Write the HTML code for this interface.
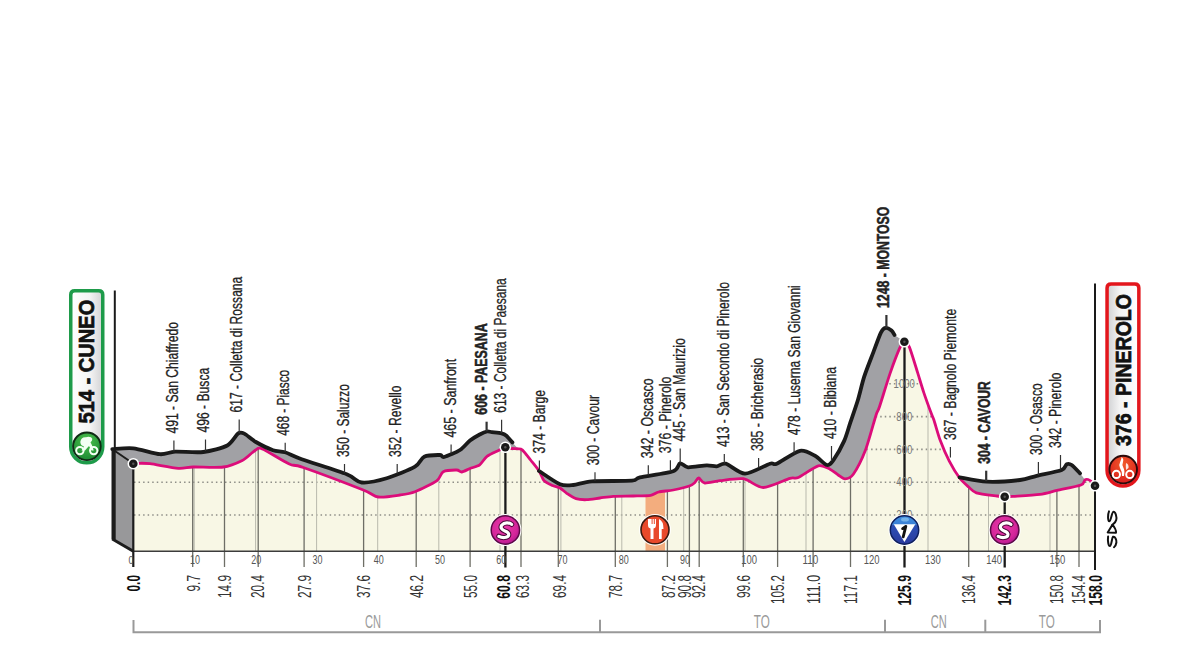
<!DOCTYPE html>
<html><head><meta charset="utf-8"><style>
html,body{margin:0;padding:0;background:#fff;}
svg{display:block;}
text{font-family:"Liberation Sans",sans-serif;}
</style></head><body>
<svg width="1200" height="660" viewBox="0 0 1200 660">
<defs>
<clipPath id="cr"><path d="M133.30,463.70 C133.97,463.65 136.07,463.30 138.30,463.30 C140.53,463.30 144.67,463.03 150.00,463.70 C155.33,464.37 172.53,467.86 178.30,468.30 C184.07,468.74 187.30,467.17 193.30,467.00 C199.30,466.83 216.77,467.88 223.30,467.00 C229.83,466.12 238.50,462.27 242.30,460.40 C246.10,458.53 249.71,454.60 251.80,453.00 C253.89,451.40 257.56,448.56 258.00,448.40 C258.44,448.24 260.90,448.11 262.70,449.00 C264.50,449.89 281.13,459.67 285.00,461.80 C288.87,463.93 289.26,464.24 291.70,465.00 C294.14,465.76 293.75,464.17 303.30,467.50 C312.85,470.83 353.30,486.07 363.30,490.00 C373.30,493.93 373.41,496.33 378.30,497.00 C383.19,497.67 395.11,495.71 400.00,495.00 C404.89,494.29 410.11,493.59 415.00,491.70 C419.89,489.81 432.93,483.47 436.70,480.80 C440.47,478.13 440.63,473.14 443.30,471.70 C445.97,470.26 454.25,469.96 456.70,470.00 C459.15,470.04 459.93,472.20 461.70,472.00 C463.47,471.80 467.60,469.46 470.00,468.50 C472.40,467.54 477.43,466.41 479.70,464.80 C481.97,463.19 484.43,458.33 487.00,456.40 C489.57,454.47 496.57,451.51 499.00,450.30 C501.43,449.09 503.57,447.54 505.20,447.30 C506.83,447.06 509.11,448.26 511.20,448.50 C513.29,448.74 518.95,448.37 520.90,449.10 C522.85,449.83 524.51,452.55 525.80,454.00 C527.09,455.45 528.83,457.75 530.60,460.00 C532.37,462.25 537.31,468.15 539.10,470.90 C540.89,473.65 542.23,478.65 544.00,480.60 C545.77,482.55 550.27,484.51 552.40,485.50 C554.53,486.49 558.09,486.96 560.00,488.00 C561.91,489.04 564.57,491.87 566.70,493.30 C568.83,494.73 573.33,497.85 576.00,498.70 C578.67,499.55 583.50,499.79 586.70,499.70 C589.90,499.61 596.45,498.45 600.00,498.00 C603.55,497.55 608.86,496.57 613.30,496.30 C617.74,496.03 628.31,496.13 633.30,496.00 C638.29,495.87 647.31,495.83 650.70,495.30 C654.09,494.77 655.69,492.71 658.70,492.00 C661.71,491.29 669.22,490.80 673.30,490.00 C677.38,489.20 686.45,486.97 689.30,486.00 C692.15,485.03 693.45,483.77 694.70,482.70 C695.95,481.63 697.37,477.96 698.70,478.00 C700.03,478.04 701.86,482.64 704.70,483.00 C707.54,483.36 714.85,481.27 720.00,480.70 C725.15,480.13 737.53,477.79 743.30,478.70 C749.07,479.61 757.07,487.55 763.30,487.50 C769.53,487.45 785.33,479.63 790.00,478.30 C794.67,476.97 794.53,479.17 798.30,477.50 C802.07,475.83 814.07,466.91 818.30,465.80 C822.53,464.69 827.35,467.97 830.00,469.20 C832.65,470.43 836.20,473.72 838.20,475.00 C840.20,476.28 842.99,478.91 845.00,478.80 C847.01,478.69 850.57,478.04 853.30,474.20 C856.03,470.36 862.47,457.87 865.50,450.00 C868.53,442.13 874.15,420.93 876.00,415.20 C877.85,409.47 877.53,412.55 879.40,407.00 C881.27,401.45 887.28,381.48 890.00,373.60 C892.72,365.72 897.88,352.14 899.80,347.90 C901.72,343.66 903.12,341.91 904.40,341.80 C905.68,341.69 907.63,342.95 909.40,347.10 C911.17,351.25 915.78,366.83 917.70,372.90 C919.62,378.97 921.97,387.15 923.80,392.60 C925.63,398.05 930.05,410.15 931.40,413.80 C932.75,417.45 932.71,416.43 933.90,420.00 C935.09,423.57 938.25,435.11 940.30,440.60 C942.35,446.09 946.73,456.21 949.30,461.20 C951.87,466.19 957.01,474.56 959.60,478.00 C962.19,481.44 966.46,485.03 968.70,487.00 C970.94,488.97 972.63,491.60 976.40,492.80 C980.17,494.00 993.23,495.48 997.00,496.00 C1000.77,496.52 1002.53,496.66 1004.70,496.70 C1006.87,496.74 1008.59,496.62 1013.30,496.30 C1018.01,495.98 1034.17,495.09 1040.00,494.30 C1045.83,493.51 1051.55,491.64 1057.00,490.40 C1062.45,489.16 1077.17,486.41 1080.90,485.00 C1084.63,483.59 1084.05,480.53 1085.00,479.80 C1085.95,479.07 1087.20,479.30 1088.00,479.50 C1088.80,479.70 1090.07,480.46 1091.00,481.30 C1091.93,482.14 1094.47,485.20 1095.00,485.80 L1095,551.3 L133.3,551.3 Z"/></clipPath>
<linearGradient id="gbox" x1="0" x2="1" y1="0" y2="0"><stop offset="0" stop-color="#ffffff"/><stop offset="0.6" stop-color="#f4f4f4"/><stop offset="1" stop-color="#d2d2d4"/></linearGradient>
<linearGradient id="rbox" x1="0" x2="1" y1="0" y2="0"><stop offset="0" stop-color="#cfd0d2"/><stop offset="0.4" stop-color="#f4f4f4"/><stop offset="1" stop-color="#ffffff"/></linearGradient>
<radialGradient id="gS" cx="0.45" cy="0.4" r="0.65"><stop offset="0" stop-color="#e83aa8"/><stop offset="0.7" stop-color="#d4259a"/><stop offset="1" stop-color="#a8158a"/></radialGradient>
<linearGradient id="gK" x1="0" x2="0" y1="0" y2="1"><stop offset="0" stop-color="#3f8ee0"/><stop offset="0.33" stop-color="#3a7fd4"/><stop offset="0.34" stop-color="#2c4fb4"/><stop offset="1" stop-color="#2a3a9e"/></linearGradient>
<radialGradient id="gG" cx="0.5" cy="0.3" r="0.7"><stop offset="0" stop-color="#4cc04c"/><stop offset="1" stop-color="#1d8a34"/></radialGradient>
<radialGradient id="gR" cx="0.5" cy="0.3" r="0.7"><stop offset="0" stop-color="#f25a2a"/><stop offset="1" stop-color="#d81c1c"/></radialGradient>
</defs>

<path d="M112.30,449.10 C115.10,448.99 126.94,447.62 133.30,448.30 C139.66,448.98 154.44,453.75 160.00,454.20 C165.56,454.65 169.23,451.99 175.00,451.70 C180.77,451.41 196.33,452.83 203.30,452.00 C210.27,451.17 222.65,447.98 227.30,445.50 C231.95,443.02 235.93,434.99 238.20,433.40 C240.47,431.81 241.94,432.45 244.30,433.60 C246.66,434.75 252.07,439.79 255.90,442.00 C259.73,444.21 269.12,448.83 273.00,450.20 C276.88,451.57 281.17,451.10 285.00,452.30 C288.83,453.50 293.47,456.28 301.70,459.20 C309.93,462.12 338.70,471.09 346.70,474.20 C354.70,477.31 356.37,481.95 361.70,482.50 C367.03,483.05 379.59,480.41 386.70,478.30 C393.81,476.19 410.00,469.58 415.00,466.70 C420.00,463.82 420.87,458.26 424.20,456.70 C427.53,455.14 437.33,454.96 440.00,455.00 C442.67,455.04 441.53,457.67 444.20,457.00 C446.87,456.33 456.56,452.20 460.00,450.00 C463.44,447.80 467.37,442.57 470.00,440.50 C472.63,438.43 477.43,435.70 479.70,434.50 C481.97,433.30 485.39,431.82 487.00,431.50 C488.61,431.18 489.87,431.86 491.80,432.10 C493.73,432.34 499.55,432.81 501.50,433.30 C503.45,433.79 504.95,434.59 506.40,435.80 C507.85,437.01 511.60,441.52 512.40,442.40 L516.7,447.3 L520.9,449.1 C521.55,449.75 524.51,452.55 525.80,454.00 C527.09,455.45 528.83,457.75 530.60,460.00 C532.37,462.25 537.97,469.45 539.10,470.90 L539.0,471.0 C541.80,472.77 555.43,482.43 560.00,484.30 C564.57,486.17 569.03,485.40 573.30,485.00 C577.57,484.60 584.17,481.87 592.00,481.30 C599.83,480.73 625.60,481.23 632.00,480.70 C638.40,480.17 634.49,478.55 640.00,477.30 C645.51,476.05 667.97,473.17 673.30,471.30 C678.63,469.43 678.04,463.83 680.00,463.30 C681.96,462.77 684.44,467.03 688.00,467.30 C691.56,467.57 702.87,465.43 706.70,465.30 C710.53,465.17 714.15,466.51 716.70,466.30 C719.25,466.09 722.03,462.71 725.80,463.70 C729.57,464.69 739.11,473.70 745.00,473.70 C750.89,473.70 765.77,465.03 770.00,463.70 C774.23,462.37 772.70,465.42 776.70,463.70 C780.70,461.98 794.89,451.85 800.00,450.80 C805.11,449.75 811.40,453.91 815.00,455.80 C818.60,457.69 824.52,464.47 827.00,465.00 C829.48,465.53 831.31,463.01 833.60,459.80 C835.89,456.59 841.97,445.85 844.20,440.90 C846.43,435.95 848.47,428.15 850.30,422.70 C852.13,417.25 856.05,406.13 857.90,400.00 C859.75,393.87 862.15,383.05 864.20,376.70 C866.25,370.35 871.07,358.27 873.30,352.40 C875.53,346.53 879.27,335.97 880.90,332.70 C882.53,329.43 884.09,328.19 885.50,327.90 C886.91,327.61 890.30,329.55 891.50,330.50 C892.70,331.45 894.10,334.40 894.50,335.00 L904.4,341.8 C905.07,342.51 907.63,342.95 909.40,347.10 C911.17,351.25 915.78,366.83 917.70,372.90 C919.62,378.97 921.97,387.15 923.80,392.60 C925.63,398.05 930.05,410.15 931.40,413.80 C932.75,417.45 932.71,416.43 933.90,420.00 C935.09,423.57 938.25,435.11 940.30,440.60 C942.35,446.09 946.73,456.21 949.30,461.20 C951.87,466.19 958.23,475.76 959.60,478.00 L959.6,477.3 C963.21,477.89 978.65,481.34 986.70,481.70 C994.75,482.06 1013.33,480.79 1020.00,480.00 C1026.67,479.21 1031.14,477.13 1036.70,475.80 C1042.26,474.47 1057.70,471.55 1061.70,470.00 C1065.70,468.45 1065.37,464.87 1066.70,464.20 C1068.03,463.53 1069.93,463.79 1071.70,465.00 C1073.47,466.21 1078.89,472.19 1080.00,473.30 L1085,479.7 L1095,485.8 L1095,551.3 L133.3,551.3 L112.3,539 Z" fill="#a1a1a5"/>
<polygon points="112.3,449.1 133.3,463.7 133.3,551.3 112.3,539" fill="#98989a"/>
<line x1="113.6" y1="449" x2="113.6" y2="539.5" stroke="#1c1c1c" stroke-width="4.2"/>
<polyline points="112.3,539 133.3,551.3" fill="none" stroke="#1c1c1c" stroke-width="3"/>
<line x1="113.5" y1="450" x2="131" y2="462" stroke="#1c1c1c" stroke-width="2"/>
<path d="M133.30,463.70 C133.97,463.65 136.07,463.30 138.30,463.30 C140.53,463.30 144.67,463.03 150.00,463.70 C155.33,464.37 172.53,467.86 178.30,468.30 C184.07,468.74 187.30,467.17 193.30,467.00 C199.30,466.83 216.77,467.88 223.30,467.00 C229.83,466.12 238.50,462.27 242.30,460.40 C246.10,458.53 249.71,454.60 251.80,453.00 C253.89,451.40 257.56,448.56 258.00,448.40 C258.44,448.24 260.90,448.11 262.70,449.00 C264.50,449.89 281.13,459.67 285.00,461.80 C288.87,463.93 289.26,464.24 291.70,465.00 C294.14,465.76 293.75,464.17 303.30,467.50 C312.85,470.83 353.30,486.07 363.30,490.00 C373.30,493.93 373.41,496.33 378.30,497.00 C383.19,497.67 395.11,495.71 400.00,495.00 C404.89,494.29 410.11,493.59 415.00,491.70 C419.89,489.81 432.93,483.47 436.70,480.80 C440.47,478.13 440.63,473.14 443.30,471.70 C445.97,470.26 454.25,469.96 456.70,470.00 C459.15,470.04 459.93,472.20 461.70,472.00 C463.47,471.80 467.60,469.46 470.00,468.50 C472.40,467.54 477.43,466.41 479.70,464.80 C481.97,463.19 484.43,458.33 487.00,456.40 C489.57,454.47 496.57,451.51 499.00,450.30 C501.43,449.09 503.57,447.54 505.20,447.30 C506.83,447.06 509.11,448.26 511.20,448.50 C513.29,448.74 518.95,448.37 520.90,449.10 C522.85,449.83 524.51,452.55 525.80,454.00 C527.09,455.45 528.83,457.75 530.60,460.00 C532.37,462.25 537.31,468.15 539.10,470.90 C540.89,473.65 542.23,478.65 544.00,480.60 C545.77,482.55 550.27,484.51 552.40,485.50 C554.53,486.49 558.09,486.96 560.00,488.00 C561.91,489.04 564.57,491.87 566.70,493.30 C568.83,494.73 573.33,497.85 576.00,498.70 C578.67,499.55 583.50,499.79 586.70,499.70 C589.90,499.61 596.45,498.45 600.00,498.00 C603.55,497.55 608.86,496.57 613.30,496.30 C617.74,496.03 628.31,496.13 633.30,496.00 C638.29,495.87 647.31,495.83 650.70,495.30 C654.09,494.77 655.69,492.71 658.70,492.00 C661.71,491.29 669.22,490.80 673.30,490.00 C677.38,489.20 686.45,486.97 689.30,486.00 C692.15,485.03 693.45,483.77 694.70,482.70 C695.95,481.63 697.37,477.96 698.70,478.00 C700.03,478.04 701.86,482.64 704.70,483.00 C707.54,483.36 714.85,481.27 720.00,480.70 C725.15,480.13 737.53,477.79 743.30,478.70 C749.07,479.61 757.07,487.55 763.30,487.50 C769.53,487.45 785.33,479.63 790.00,478.30 C794.67,476.97 794.53,479.17 798.30,477.50 C802.07,475.83 814.07,466.91 818.30,465.80 C822.53,464.69 827.35,467.97 830.00,469.20 C832.65,470.43 836.20,473.72 838.20,475.00 C840.20,476.28 842.99,478.91 845.00,478.80 C847.01,478.69 850.57,478.04 853.30,474.20 C856.03,470.36 862.47,457.87 865.50,450.00 C868.53,442.13 874.15,420.93 876.00,415.20 C877.85,409.47 877.53,412.55 879.40,407.00 C881.27,401.45 887.28,381.48 890.00,373.60 C892.72,365.72 897.88,352.14 899.80,347.90 C901.72,343.66 903.12,341.91 904.40,341.80 C905.68,341.69 907.63,342.95 909.40,347.10 C911.17,351.25 915.78,366.83 917.70,372.90 C919.62,378.97 921.97,387.15 923.80,392.60 C925.63,398.05 930.05,410.15 931.40,413.80 C932.75,417.45 932.71,416.43 933.90,420.00 C935.09,423.57 938.25,435.11 940.30,440.60 C942.35,446.09 946.73,456.21 949.30,461.20 C951.87,466.19 957.01,474.56 959.60,478.00 C962.19,481.44 966.46,485.03 968.70,487.00 C970.94,488.97 972.63,491.60 976.40,492.80 C980.17,494.00 993.23,495.48 997.00,496.00 C1000.77,496.52 1002.53,496.66 1004.70,496.70 C1006.87,496.74 1008.59,496.62 1013.30,496.30 C1018.01,495.98 1034.17,495.09 1040.00,494.30 C1045.83,493.51 1051.55,491.64 1057.00,490.40 C1062.45,489.16 1077.17,486.41 1080.90,485.00 C1084.63,483.59 1084.05,480.53 1085.00,479.80 C1085.95,479.07 1087.20,479.30 1088.00,479.50 C1088.80,479.70 1090.07,480.46 1091.00,481.30 C1091.93,482.14 1094.47,485.20 1095.00,485.80 L1095,551.3 L133.3,551.3 Z" fill="#f8f7e5"/>
<g clip-path="url(#cr)" stroke="#8f8f88" stroke-width="1.6" stroke-dasharray="1.5 3.05" fill="none">
<line x1="134" y1="515.0" x2="1095" y2="515.0"/>
<line x1="134" y1="482.2" x2="1095" y2="482.2"/>
<line x1="134" y1="449.4" x2="1095" y2="449.4"/>
<line x1="134" y1="416.6" x2="1095" y2="416.6"/>
<line x1="134" y1="383.8" x2="1095" y2="383.8"/>
</g>
<g clip-path="url(#cr)" stroke="#b9b9ad" stroke-width="1" fill="none">
<line x1="194.2" y1="300" x2="194.2" y2="551.3"/>
<line x1="255.6" y1="300" x2="255.6" y2="551.3"/>
<line x1="316.6" y1="300" x2="316.6" y2="551.3"/>
<line x1="377.7" y1="300" x2="377.7" y2="551.3"/>
<line x1="438.8" y1="300" x2="438.8" y2="551.3"/>
<line x1="500.0" y1="300" x2="500.0" y2="551.3"/>
<line x1="560.9" y1="300" x2="560.9" y2="551.3"/>
<line x1="621.8" y1="300" x2="621.8" y2="551.3"/>
<line x1="683.7" y1="300" x2="683.7" y2="551.3"/>
<line x1="745.0" y1="300" x2="745.0" y2="551.3"/>
<line x1="806.0" y1="300" x2="806.0" y2="551.3"/>
<line x1="867.0" y1="300" x2="867.0" y2="551.3"/>
<line x1="928.0" y1="300" x2="928.0" y2="551.3"/>
<line x1="988.5" y1="300" x2="988.5" y2="551.3"/>
<line x1="1050.0" y1="300" x2="1050.0" y2="551.3"/>
</g>
<g stroke="#6e6e66" stroke-width="1.3" fill="none">
<line x1="192.7" y1="300" x2="192.7" y2="551.3" clip-path="url(#cr)"/>
<line x1="192.7" y1="551.3" x2="192.7" y2="567"/>
<line x1="224.5" y1="300" x2="224.5" y2="551.3" clip-path="url(#cr)"/>
<line x1="224.5" y1="551.3" x2="224.5" y2="567"/>
<line x1="258.2" y1="300" x2="258.2" y2="551.3" clip-path="url(#cr)"/>
<line x1="258.2" y1="551.3" x2="258.2" y2="567"/>
<line x1="304.1" y1="300" x2="304.1" y2="551.3" clip-path="url(#cr)"/>
<line x1="304.1" y1="551.3" x2="304.1" y2="567"/>
<line x1="363.6" y1="300" x2="363.6" y2="551.3" clip-path="url(#cr)"/>
<line x1="363.6" y1="551.3" x2="363.6" y2="567"/>
<line x1="416.2" y1="300" x2="416.2" y2="551.3" clip-path="url(#cr)"/>
<line x1="416.2" y1="551.3" x2="416.2" y2="567"/>
<line x1="470.1" y1="300" x2="470.1" y2="551.3" clip-path="url(#cr)"/>
<line x1="470.1" y1="551.3" x2="470.1" y2="567"/>
<line x1="521.0" y1="300" x2="521.0" y2="551.3" clip-path="url(#cr)"/>
<line x1="521.0" y1="551.3" x2="521.0" y2="567"/>
<line x1="558.3" y1="300" x2="558.3" y2="551.3" clip-path="url(#cr)"/>
<line x1="558.3" y1="551.3" x2="558.3" y2="567"/>
<line x1="615.3" y1="300" x2="615.3" y2="551.3" clip-path="url(#cr)"/>
<line x1="615.3" y1="551.3" x2="615.3" y2="567"/>
<line x1="667.4" y1="300" x2="667.4" y2="551.3" clip-path="url(#cr)"/>
<line x1="667.4" y1="551.3" x2="667.4" y2="567"/>
<line x1="689.4" y1="300" x2="689.4" y2="551.3" clip-path="url(#cr)"/>
<line x1="689.4" y1="551.3" x2="689.4" y2="567"/>
<line x1="699.2" y1="300" x2="699.2" y2="551.3" clip-path="url(#cr)"/>
<line x1="699.2" y1="551.3" x2="699.2" y2="567"/>
<line x1="743.3" y1="300" x2="743.3" y2="551.3" clip-path="url(#cr)"/>
<line x1="743.3" y1="551.3" x2="743.3" y2="567"/>
<line x1="777.6" y1="300" x2="777.6" y2="551.3" clip-path="url(#cr)"/>
<line x1="777.6" y1="551.3" x2="777.6" y2="567"/>
<line x1="813.1" y1="300" x2="813.1" y2="551.3" clip-path="url(#cr)"/>
<line x1="813.1" y1="551.3" x2="813.1" y2="567"/>
<line x1="850.5" y1="300" x2="850.5" y2="551.3" clip-path="url(#cr)"/>
<line x1="850.5" y1="551.3" x2="850.5" y2="567"/>
<line x1="968.7" y1="300" x2="968.7" y2="551.3" clip-path="url(#cr)"/>
<line x1="968.7" y1="551.3" x2="968.7" y2="567"/>
<line x1="1056.9" y1="300" x2="1056.9" y2="551.3" clip-path="url(#cr)"/>
<line x1="1056.9" y1="551.3" x2="1056.9" y2="567"/>
<line x1="1079.0" y1="300" x2="1079.0" y2="551.3" clip-path="url(#cr)"/>
<line x1="1079.0" y1="551.3" x2="1079.0" y2="567"/>
</g>
<rect x="645.5" y="480" width="19.5" height="71.3" fill="#f3ad7e" clip-path="url(#cr)"/>
<line x1="133" y1="551.3" x2="1095" y2="551.3" stroke="#3c3c3c" stroke-width="1.6"/>
<path d="M138.30,463.30 C139.86,463.35 144.67,463.03 150.00,463.70 C155.33,464.37 172.53,467.86 178.30,468.30 C184.07,468.74 187.30,467.17 193.30,467.00 C199.30,466.83 216.77,467.88 223.30,467.00 C229.83,466.12 238.50,462.27 242.30,460.40 C246.10,458.53 249.71,454.60 251.80,453.00 C253.89,451.40 257.56,448.56 258.00,448.40 C258.44,448.24 260.90,448.11 262.70,449.00 C264.50,449.89 281.13,459.67 285.00,461.80 C288.87,463.93 289.26,464.24 291.70,465.00 C294.14,465.76 293.75,464.17 303.30,467.50 C312.85,470.83 353.30,486.07 363.30,490.00 C373.30,493.93 373.41,496.33 378.30,497.00 C383.19,497.67 395.11,495.71 400.00,495.00 C404.89,494.29 410.11,493.59 415.00,491.70 C419.89,489.81 432.93,483.47 436.70,480.80 C440.47,478.13 440.63,473.14 443.30,471.70 C445.97,470.26 454.25,469.96 456.70,470.00 C459.15,470.04 459.93,472.20 461.70,472.00 C463.47,471.80 467.60,469.46 470.00,468.50 C472.40,467.54 477.43,466.41 479.70,464.80 C481.97,463.19 484.43,458.33 487.00,456.40 C489.57,454.47 496.57,451.51 499.00,450.30 C501.43,449.09 503.57,447.54 505.20,447.30 C506.83,447.06 509.11,448.26 511.20,448.50 C513.29,448.74 518.95,448.37 520.90,449.10 C522.85,449.83 524.51,452.55 525.80,454.00 C527.09,455.45 528.83,457.75 530.60,460.00 C532.37,462.25 537.31,468.15 539.10,470.90 C540.89,473.65 542.23,478.65 544.00,480.60 C545.77,482.55 550.27,484.51 552.40,485.50 C554.53,486.49 558.09,486.96 560.00,488.00 C561.91,489.04 564.57,491.87 566.70,493.30 C568.83,494.73 573.33,497.85 576.00,498.70 C578.67,499.55 583.50,499.79 586.70,499.70 C589.90,499.61 596.45,498.45 600.00,498.00 C603.55,497.55 608.86,496.57 613.30,496.30 C617.74,496.03 628.31,496.13 633.30,496.00 C638.29,495.87 647.31,495.83 650.70,495.30 C654.09,494.77 655.69,492.71 658.70,492.00 C661.71,491.29 669.22,490.80 673.30,490.00 C677.38,489.20 686.45,486.97 689.30,486.00 C692.15,485.03 693.45,483.77 694.70,482.70 C695.95,481.63 697.37,477.96 698.70,478.00 C700.03,478.04 701.86,482.64 704.70,483.00 C707.54,483.36 714.85,481.27 720.00,480.70 C725.15,480.13 737.53,477.79 743.30,478.70 C749.07,479.61 757.07,487.55 763.30,487.50 C769.53,487.45 785.33,479.63 790.00,478.30 C794.67,476.97 794.53,479.17 798.30,477.50 C802.07,475.83 814.07,466.91 818.30,465.80 C822.53,464.69 827.35,467.97 830.00,469.20 C832.65,470.43 836.20,473.72 838.20,475.00 C840.20,476.28 842.99,478.91 845.00,478.80 C847.01,478.69 850.57,478.04 853.30,474.20 C856.03,470.36 862.47,457.87 865.50,450.00 C868.53,442.13 874.15,420.93 876.00,415.20 C877.85,409.47 877.53,412.55 879.40,407.00 C881.27,401.45 887.28,381.48 890.00,373.60 C892.72,365.72 897.88,352.14 899.80,347.90 C901.72,343.66 903.12,341.91 904.40,341.80 C905.68,341.69 907.63,342.95 909.40,347.10 C911.17,351.25 915.78,366.83 917.70,372.90 C919.62,378.97 921.97,387.15 923.80,392.60 C925.63,398.05 930.05,410.15 931.40,413.80 C932.75,417.45 932.71,416.43 933.90,420.00 C935.09,423.57 938.25,435.11 940.30,440.60 C942.35,446.09 946.73,456.21 949.30,461.20 C951.87,466.19 957.01,474.56 959.60,478.00 C962.19,481.44 966.46,485.03 968.70,487.00 C970.94,488.97 972.63,491.60 976.40,492.80 C980.17,494.00 993.23,495.48 997.00,496.00 C1000.77,496.52 1002.53,496.66 1004.70,496.70 C1006.87,496.74 1008.59,496.62 1013.30,496.30 C1018.01,495.98 1034.17,495.09 1040.00,494.30 C1045.83,493.51 1051.55,491.64 1057.00,490.40 C1062.45,489.16 1077.17,486.41 1080.90,485.00 C1084.63,483.59 1084.05,480.53 1085.00,479.80 C1085.95,479.07 1087.20,479.30 1088.00,479.50 C1088.80,479.70 1090.60,481.06 1091.00,481.30" fill="none" stroke="#dc0c7a" stroke-width="2.8" stroke-linejoin="round" stroke-linecap="round"/>
<path d="M112.30,449.10 C115.10,448.99 126.94,447.62 133.30,448.30 C139.66,448.98 154.44,453.75 160.00,454.20 C165.56,454.65 169.23,451.99 175.00,451.70 C180.77,451.41 196.33,452.83 203.30,452.00 C210.27,451.17 222.65,447.98 227.30,445.50 C231.95,443.02 235.93,434.99 238.20,433.40 C240.47,431.81 241.94,432.45 244.30,433.60 C246.66,434.75 252.07,439.79 255.90,442.00 C259.73,444.21 269.12,448.83 273.00,450.20 C276.88,451.57 281.17,451.10 285.00,452.30 C288.83,453.50 293.47,456.28 301.70,459.20 C309.93,462.12 338.70,471.09 346.70,474.20 C354.70,477.31 356.37,481.95 361.70,482.50 C367.03,483.05 379.59,480.41 386.70,478.30 C393.81,476.19 410.00,469.58 415.00,466.70 C420.00,463.82 420.87,458.26 424.20,456.70 C427.53,455.14 437.33,454.96 440.00,455.00 C442.67,455.04 441.53,457.67 444.20,457.00 C446.87,456.33 456.56,452.20 460.00,450.00 C463.44,447.80 467.37,442.57 470.00,440.50 C472.63,438.43 477.43,435.70 479.70,434.50 C481.97,433.30 485.39,431.82 487.00,431.50 C488.61,431.18 489.87,431.86 491.80,432.10 C493.73,432.34 499.55,432.81 501.50,433.30 C503.45,433.79 504.95,434.59 506.40,435.80 C507.85,437.01 511.60,441.52 512.40,442.40" fill="none" stroke="#1a1a1a" stroke-width="3.8" stroke-linejoin="round" stroke-linecap="round"/>
<path d="M539.00,471.00 C541.80,472.77 555.43,482.43 560.00,484.30 C564.57,486.17 569.03,485.40 573.30,485.00 C577.57,484.60 584.17,481.87 592.00,481.30 C599.83,480.73 625.60,481.23 632.00,480.70 C638.40,480.17 634.49,478.55 640.00,477.30 C645.51,476.05 667.97,473.17 673.30,471.30 C678.63,469.43 678.04,463.83 680.00,463.30 C681.96,462.77 684.44,467.03 688.00,467.30 C691.56,467.57 702.87,465.43 706.70,465.30 C710.53,465.17 714.15,466.51 716.70,466.30 C719.25,466.09 722.03,462.71 725.80,463.70 C729.57,464.69 739.11,473.70 745.00,473.70 C750.89,473.70 765.77,465.03 770.00,463.70 C774.23,462.37 772.70,465.42 776.70,463.70 C780.70,461.98 794.89,451.85 800.00,450.80 C805.11,449.75 811.40,453.91 815.00,455.80 C818.60,457.69 824.52,464.47 827.00,465.00 C829.48,465.53 831.31,463.01 833.60,459.80 C835.89,456.59 841.97,445.85 844.20,440.90 C846.43,435.95 848.47,428.15 850.30,422.70 C852.13,417.25 856.05,406.13 857.90,400.00 C859.75,393.87 862.15,383.05 864.20,376.70 C866.25,370.35 871.07,358.27 873.30,352.40 C875.53,346.53 879.27,335.97 880.90,332.70 C882.53,329.43 884.09,328.19 885.50,327.90 C886.91,327.61 890.30,329.55 891.50,330.50 C892.70,331.45 894.10,334.40 894.50,335.00" fill="none" stroke="#1a1a1a" stroke-width="3.8" stroke-linejoin="round" stroke-linecap="round"/>
<path d="M959.60,477.30 C963.21,477.89 978.65,481.34 986.70,481.70 C994.75,482.06 1013.33,480.79 1020.00,480.00 C1026.67,479.21 1031.14,477.13 1036.70,475.80 C1042.26,474.47 1057.70,471.55 1061.70,470.00 C1065.70,468.45 1065.37,464.87 1066.70,464.20 C1068.03,463.53 1069.93,463.79 1071.70,465.00 C1073.47,466.21 1078.89,472.19 1080.00,473.30" fill="none" stroke="#1a1a1a" stroke-width="3.8" stroke-linejoin="round" stroke-linecap="round"/>
<line x1="133.3" y1="463" x2="133.3" y2="567" stroke="#1c1c1c" stroke-width="2.2"/>
<line x1="114.8" y1="290.5" x2="114.8" y2="449" stroke="#1a1a1a" stroke-width="2"/>
<line x1="1095" y1="283.5" x2="1095" y2="570" stroke="#1a1a1a" stroke-width="2"/>
<line x1="505.4" y1="447.3" x2="505.4" y2="567.5" stroke="#1a1a1a" stroke-width="2.3"/>
<line x1="904.5" y1="341.8" x2="904.5" y2="567.5" stroke="#1a1a1a" stroke-width="2.3"/>
<line x1="1004.7" y1="496.7" x2="1004.7" y2="567.5" stroke="#1a1a1a" stroke-width="2.3"/>
<circle cx="133.3" cy="463.7" r="5.8" fill="#fff"/><circle cx="133.3" cy="463.7" r="4.3" fill="#1a1a1a"/><circle cx="133.3" cy="463.7" r="1.2" fill="#555"/>
<circle cx="505.3" cy="447.3" r="5.8" fill="#fff"/><circle cx="505.3" cy="447.3" r="4.3" fill="#1a1a1a"/><circle cx="505.3" cy="447.3" r="1.2" fill="#555"/>
<circle cx="904.4" cy="341.8" r="5.8" fill="#fff"/><circle cx="904.4" cy="341.8" r="4.3" fill="#1a1a1a"/><circle cx="904.4" cy="341.8" r="1.2" fill="#555"/>
<circle cx="1004.7" cy="496.7" r="5.8" fill="#fff"/><circle cx="1004.7" cy="496.7" r="4.3" fill="#1a1a1a"/><circle cx="1004.7" cy="496.7" r="1.2" fill="#555"/>
<circle cx="1095.0" cy="485.8" r="5.8" fill="#fff"/><circle cx="1095.0" cy="485.8" r="4.3" fill="#1a1a1a"/><circle cx="1095.0" cy="485.8" r="1.2" fill="#555"/>
<text x="904.3" y="388.1" font-size="12" fill="#777" text-anchor="middle" transform="translate(904.3 0) scale(0.8 1) translate(-904.3 0)">1000</text>
<text x="904.3" y="420.9" font-size="12" fill="#777" text-anchor="middle" transform="translate(904.3 0) scale(0.8 1) translate(-904.3 0)">800</text>
<text x="904.3" y="453.7" font-size="12" fill="#777" text-anchor="middle" transform="translate(904.3 0) scale(0.8 1) translate(-904.3 0)">600</text>
<text x="904.3" y="486.5" font-size="12" fill="#777" text-anchor="middle" transform="translate(904.3 0) scale(0.8 1) translate(-904.3 0)">400</text>
<text x="904.3" y="519.3" font-size="12" fill="#777" text-anchor="middle" transform="translate(904.3 0) scale(0.8 1) translate(-904.3 0)">200</text>
<text transform="translate(177.7 433.6) rotate(-90)" font-size="17" fill="#222" stroke="#222" stroke-width="0.3"  textLength="111.6" lengthAdjust="spacingAndGlyphs">491 - San Chiaffredo</text>
<line x1="173.9" y1="440.6" x2="173.9" y2="451.4" stroke="#333" stroke-width="1.2"/>
<text transform="translate(209.2 432.5) rotate(-90)" font-size="17" fill="#222" stroke="#222" stroke-width="0.3"  textLength="64.7" lengthAdjust="spacingAndGlyphs">496 - Busca</text>
<line x1="205.5" y1="439.5" x2="205.5" y2="450.9" stroke="#333" stroke-width="1.2"/>
<text transform="translate(242.1 412.4) rotate(-90)" font-size="17" fill="#222" stroke="#222" stroke-width="0.3"  textLength="135.7" lengthAdjust="spacingAndGlyphs">617 - Colletta di Rossana</text>
<line x1="239.2" y1="419.4" x2="239.2" y2="432.9" stroke="#333" stroke-width="1.2"/>
<text transform="translate(289.4 435.8) rotate(-90)" font-size="17" fill="#222" stroke="#222" stroke-width="0.3"  textLength="66.0" lengthAdjust="spacingAndGlyphs">468 - Piasco</text>
<line x1="285.2" y1="442.8" x2="285.2" y2="451.9" stroke="#333" stroke-width="1.2"/>
<text transform="translate(348.9 457.0) rotate(-90)" font-size="17" fill="#222" stroke="#222" stroke-width="0.3"  textLength="72.8" lengthAdjust="spacingAndGlyphs">350 - Saluzzo</text>
<line x1="344.5" y1="464.0" x2="344.5" y2="473.0" stroke="#333" stroke-width="1.2"/>
<text transform="translate(401.0 457.0) rotate(-90)" font-size="17" fill="#222" stroke="#222" stroke-width="0.3"  textLength="71.5" lengthAdjust="spacingAndGlyphs">352 - Revello</text>
<line x1="397.2" y1="464.0" x2="397.2" y2="473.5" stroke="#333" stroke-width="1.2"/>
<text transform="translate(455.6 437.6) rotate(-90)" font-size="17" fill="#222" stroke="#222" stroke-width="0.3"  textLength="78.8" lengthAdjust="spacingAndGlyphs">465 - Sanfront</text>
<line x1="451.1" y1="444.6" x2="451.1" y2="453.4" stroke="#333" stroke-width="1.2"/>
<text transform="translate(486.5 414.7) rotate(-90)" font-size="17" fill="#222" stroke="#222" stroke-width="0.5" font-weight="bold" textLength="91.4" lengthAdjust="spacingAndGlyphs">606 - PAESANA</text>
<line x1="486.6" y1="421.7" x2="486.6" y2="431.2" stroke="#333" stroke-width="2.2"/>
<text transform="translate(505.6 412.7) rotate(-90)" font-size="17" fill="#222" stroke="#222" stroke-width="0.3"  textLength="134.4" lengthAdjust="spacingAndGlyphs">613 - Colletta di Paesana</text>
<line x1="501.6" y1="419.7" x2="501.6" y2="432.9" stroke="#333" stroke-width="1.2"/>
<text transform="translate(545.1 453.4) rotate(-90)" font-size="17" fill="#222" stroke="#222" stroke-width="0.3"  textLength="63.4" lengthAdjust="spacingAndGlyphs">374 - Barge</text>
<line x1="539.4" y1="460.4" x2="539.4" y2="470.8" stroke="#333" stroke-width="1.2"/>
<text transform="translate(599.2 465.3) rotate(-90)" font-size="17" fill="#222" stroke="#222" stroke-width="0.3"  textLength="70.3" lengthAdjust="spacingAndGlyphs">300 - Cavour</text>
<line x1="595.0" y1="472.3" x2="595.0" y2="480.8" stroke="#333" stroke-width="1.2"/>
<text transform="translate(653.2 458.3) rotate(-90)" font-size="17" fill="#222" stroke="#222" stroke-width="0.3"  textLength="80.0" lengthAdjust="spacingAndGlyphs">342 - Oscasco</text>
<line x1="648.3" y1="465.3" x2="648.3" y2="475.3" stroke="#333" stroke-width="1.2"/>
<text transform="translate(670.9 453.3) rotate(-90)" font-size="17" fill="#222" stroke="#222" stroke-width="0.3"  textLength="76.6" lengthAdjust="spacingAndGlyphs">376 - Pinerolo</text>
<line x1="670.4" y1="460.3" x2="670.4" y2="471.3" stroke="#333" stroke-width="1.2"/>
<text transform="translate(685.2 441.5) rotate(-90)" font-size="17" fill="#222" stroke="#222" stroke-width="0.3"  textLength="103.3" lengthAdjust="spacingAndGlyphs">445 - San Maurizio</text>
<line x1="680.2" y1="448.5" x2="680.2" y2="462.9" stroke="#333" stroke-width="1.2"/>
<text transform="translate(729.2 446.9) rotate(-90)" font-size="17" fill="#222" stroke="#222" stroke-width="0.3"  textLength="165.0" lengthAdjust="spacingAndGlyphs">413 - San Secondo di Pinerolo</text>
<line x1="724.3" y1="453.9" x2="724.3" y2="463.6" stroke="#333" stroke-width="1.2"/>
<text transform="translate(762.9 451.1) rotate(-90)" font-size="17" fill="#222" stroke="#222" stroke-width="0.3"  textLength="93.1" lengthAdjust="spacingAndGlyphs">385 - Bricherasio</text>
<line x1="758.6" y1="458.1" x2="758.6" y2="467.8" stroke="#333" stroke-width="1.2"/>
<text transform="translate(800.1 435.3) rotate(-90)" font-size="17" fill="#222" stroke="#222" stroke-width="0.3"  textLength="150.1" lengthAdjust="spacingAndGlyphs">478 - Luserna San Giovanni</text>
<line x1="794.1" y1="442.3" x2="794.1" y2="453.6" stroke="#333" stroke-width="1.2"/>
<text transform="translate(835.9 439.0) rotate(-90)" font-size="17" fill="#222" stroke="#222" stroke-width="0.3"  textLength="72.0" lengthAdjust="spacingAndGlyphs">410 - Bibiana</text>
<line x1="831.5" y1="446.0" x2="831.5" y2="461.0" stroke="#333" stroke-width="1.2"/>
<text transform="translate(888.7 308.0) rotate(-90)" font-size="17" fill="#222" stroke="#222" stroke-width="0.5" font-weight="bold" textLength="101.3" lengthAdjust="spacingAndGlyphs">1248 - MONTOSO</text>
<line x1="886.4" y1="315.0" x2="886.4" y2="327.8" stroke="#333" stroke-width="2.2"/>
<text transform="translate(956.0 440.0) rotate(-90)" font-size="17" fill="#222" stroke="#222" stroke-width="0.3"  textLength="131.3" lengthAdjust="spacingAndGlyphs">367 - Bagnolo Piemonte</text>
<line x1="950.4" y1="447.0" x2="950.4" y2="457.5" stroke="#333" stroke-width="1.2"/>
<text transform="translate(989.5 463.7) rotate(-90)" font-size="17" fill="#222" stroke="#222" stroke-width="0.5" font-weight="bold" textLength="82.5" lengthAdjust="spacingAndGlyphs">304 - CAVOUR</text>
<line x1="986.2" y1="470.7" x2="986.2" y2="481.1" stroke="#333" stroke-width="2.2"/>
<text transform="translate(1041.6 455.0) rotate(-90)" font-size="17" fill="#222" stroke="#222" stroke-width="0.3"  textLength="71.6" lengthAdjust="spacingAndGlyphs">300 - Osasco</text>
<line x1="1038.4" y1="462.0" x2="1038.4" y2="474.9" stroke="#333" stroke-width="1.2"/>
<text transform="translate(1060.6 448.0) rotate(-90)" font-size="17" fill="#222" stroke="#222" stroke-width="0.3"  textLength="75.6" lengthAdjust="spacingAndGlyphs">342 - Pinerolo</text>
<line x1="1060.5" y1="455.0" x2="1060.5" y2="469.8" stroke="#333" stroke-width="1.2"/>
<text transform="translate(140.0 575) rotate(-90)" font-size="18" fill="#111" text-anchor="end" font-weight="bold" textLength="16.5" lengthAdjust="spacingAndGlyphs">0.0</text>
<text transform="translate(199.5 575) rotate(-90)" font-size="18" fill="#333" text-anchor="end"  textLength="16.5" lengthAdjust="spacingAndGlyphs">9.7</text>
<text transform="translate(230.8 575) rotate(-90)" font-size="18" fill="#333" text-anchor="end"  textLength="23.0" lengthAdjust="spacingAndGlyphs">14.9</text>
<text transform="translate(264.3 575) rotate(-90)" font-size="18" fill="#333" text-anchor="end"  textLength="23.0" lengthAdjust="spacingAndGlyphs">20.4</text>
<text transform="translate(310.7 575) rotate(-90)" font-size="18" fill="#333" text-anchor="end"  textLength="23.0" lengthAdjust="spacingAndGlyphs">27.9</text>
<text transform="translate(369.7 575) rotate(-90)" font-size="18" fill="#333" text-anchor="end"  textLength="23.0" lengthAdjust="spacingAndGlyphs">37.6</text>
<text transform="translate(423.0 575) rotate(-90)" font-size="18" fill="#333" text-anchor="end"  textLength="23.0" lengthAdjust="spacingAndGlyphs">46.2</text>
<text transform="translate(476.9 575) rotate(-90)" font-size="18" fill="#333" text-anchor="end"  textLength="23.0" lengthAdjust="spacingAndGlyphs">55.0</text>
<text transform="translate(509.7 575) rotate(-90)" font-size="18" fill="#111" text-anchor="end" font-weight="bold" textLength="23.8" lengthAdjust="spacingAndGlyphs">60.8</text>
<text transform="translate(529.3 575) rotate(-90)" font-size="18" fill="#333" text-anchor="end"  textLength="23.0" lengthAdjust="spacingAndGlyphs">63.3</text>
<text transform="translate(565.7 575) rotate(-90)" font-size="18" fill="#333" text-anchor="end"  textLength="23.0" lengthAdjust="spacingAndGlyphs">69.4</text>
<text transform="translate(621.8 575) rotate(-90)" font-size="18" fill="#333" text-anchor="end"  textLength="23.0" lengthAdjust="spacingAndGlyphs">78.7</text>
<text transform="translate(675.2 575) rotate(-90)" font-size="18" fill="#333" text-anchor="end"  textLength="23.0" lengthAdjust="spacingAndGlyphs">87.2</text>
<text transform="translate(690.7 575) rotate(-90)" font-size="18" fill="#333" text-anchor="end"  textLength="23.0" lengthAdjust="spacingAndGlyphs">90.8</text>
<text transform="translate(705.2 575) rotate(-90)" font-size="18" fill="#333" text-anchor="end"  textLength="23.0" lengthAdjust="spacingAndGlyphs">92.4</text>
<text transform="translate(750.1 575) rotate(-90)" font-size="18" fill="#333" text-anchor="end"  textLength="23.0" lengthAdjust="spacingAndGlyphs">99.6</text>
<text transform="translate(784.1 575) rotate(-90)" font-size="18" fill="#333" text-anchor="end"  textLength="29.0" lengthAdjust="spacingAndGlyphs">105.2</text>
<text transform="translate(819.8 575) rotate(-90)" font-size="18" fill="#333" text-anchor="end"  textLength="29.0" lengthAdjust="spacingAndGlyphs">111.0</text>
<text transform="translate(856.8 575) rotate(-90)" font-size="18" fill="#333" text-anchor="end"  textLength="29.0" lengthAdjust="spacingAndGlyphs">117.1</text>
<text transform="translate(911.0 575) rotate(-90)" font-size="18" fill="#111" text-anchor="end" font-weight="bold" textLength="30.5" lengthAdjust="spacingAndGlyphs">125.9</text>
<text transform="translate(975.2 575) rotate(-90)" font-size="18" fill="#333" text-anchor="end"  textLength="29.0" lengthAdjust="spacingAndGlyphs">136.4</text>
<text transform="translate(1011.3 575) rotate(-90)" font-size="18" fill="#111" text-anchor="end" font-weight="bold" textLength="30.5" lengthAdjust="spacingAndGlyphs">142.3</text>
<text transform="translate(1063.1 575) rotate(-90)" font-size="18" fill="#333" text-anchor="end"  textLength="29.0" lengthAdjust="spacingAndGlyphs">150.8</text>
<text transform="translate(1085.4 575) rotate(-90)" font-size="18" fill="#333" text-anchor="end"  textLength="29.0" lengthAdjust="spacingAndGlyphs">154.4</text>
<text transform="translate(1102.3 575) rotate(-90)" font-size="18" fill="#111" text-anchor="end" font-weight="bold" textLength="30.5" lengthAdjust="spacingAndGlyphs">158.0</text>
<text x="190.0" y="563.8" font-size="13" fill="#555" textLength="10.0" lengthAdjust="spacingAndGlyphs">10</text>
<text x="251.2" y="563.8" font-size="13" fill="#555" textLength="10.0" lengthAdjust="spacingAndGlyphs">20</text>
<text x="312.5" y="563.8" font-size="13" fill="#555" textLength="10.0" lengthAdjust="spacingAndGlyphs">30</text>
<text x="373.8" y="563.8" font-size="13" fill="#555" textLength="10.0" lengthAdjust="spacingAndGlyphs">40</text>
<text x="435.0" y="563.8" font-size="13" fill="#555" textLength="10.0" lengthAdjust="spacingAndGlyphs">50</text>
<text x="496.2" y="563.8" font-size="13" fill="#555" textLength="10.0" lengthAdjust="spacingAndGlyphs">60</text>
<text x="557.5" y="563.8" font-size="13" fill="#555" textLength="10.0" lengthAdjust="spacingAndGlyphs">70</text>
<text x="618.8" y="563.8" font-size="13" fill="#555" textLength="10.0" lengthAdjust="spacingAndGlyphs">80</text>
<text x="680.0" y="563.8" font-size="13" fill="#555" textLength="10.0" lengthAdjust="spacingAndGlyphs">90</text>
<text x="741.2" y="563.8" font-size="13" fill="#555" textLength="15.8" lengthAdjust="spacingAndGlyphs">100</text>
<text x="802.5" y="563.8" font-size="13" fill="#555" textLength="15.8" lengthAdjust="spacingAndGlyphs">110</text>
<text x="863.8" y="563.8" font-size="13" fill="#555" textLength="15.8" lengthAdjust="spacingAndGlyphs">120</text>
<text x="925.0" y="563.8" font-size="13" fill="#555" textLength="15.8" lengthAdjust="spacingAndGlyphs">130</text>
<text x="986.2" y="563.8" font-size="13" fill="#555" textLength="15.8" lengthAdjust="spacingAndGlyphs">140</text>
<text x="1049.5" y="563.8" font-size="13" fill="#555" textLength="15.8" lengthAdjust="spacingAndGlyphs">150</text>
<text x="128.5" y="563.8" font-size="11.8" fill="#555" textLength="5" lengthAdjust="spacingAndGlyphs">0</text>
<polyline points="133.5,620 133.5,632.3 1100,632.3 1100,620" fill="none" stroke="#999" stroke-width="2"/>
<line x1="600.0" y1="619.7" x2="600.0" y2="632.3" stroke="#999" stroke-width="2"/>
<line x1="885.0" y1="619.7" x2="885.0" y2="632.3" stroke="#999" stroke-width="2"/>
<line x1="985.3" y1="619.7" x2="985.3" y2="632.3" stroke="#999" stroke-width="2"/>
<text x="365.0" y="628" font-size="18.5" fill="#9a9a9a" textLength="16" lengthAdjust="spacingAndGlyphs">CN</text>
<text x="753.8" y="628" font-size="18.5" fill="#9a9a9a" textLength="16" lengthAdjust="spacingAndGlyphs">TO</text>
<text x="930.8" y="628" font-size="18.5" fill="#9a9a9a" textLength="16" lengthAdjust="spacingAndGlyphs">CN</text>
<text x="1038.8" y="628" font-size="18.5" fill="#9a9a9a" textLength="16" lengthAdjust="spacingAndGlyphs">TO</text>
<path d="M74.75,290.85 H98.75 Q102.75,290.85 102.75,294.85 V446.85 A16,16 0 0 1 70.75,446.85 V294.85 Q70.75,290.85 74.75,290.85 Z" fill="url(#gbox)" stroke="#1e9b4a" stroke-width="3.5"/>
<text transform="translate(93.8 423.6) rotate(-90)" font-size="22" font-weight="bold" fill="#111" stroke="#111" stroke-width="0.7" textLength="123.9" lengthAdjust="spacingAndGlyphs">514 - CUNEO</text>
<path d="M1111.05,283.95 H1134.85 Q1138.85,283.95 1138.85,287.95 V470.25 A15.9,15.9 0 0 1 1107.05,470.25 V287.95 Q1107.05,283.95 1111.05,283.95 Z" fill="url(#rbox)" stroke="#e3161c" stroke-width="3.5"/>
<text transform="translate(1130.5 446) rotate(-90)" font-size="22" font-weight="bold" fill="#111" stroke="#111" stroke-width="0.7" textLength="152" lengthAdjust="spacingAndGlyphs">376 - PINEROLO</text>
<circle cx="86.9" cy="446.3" r="13.8" fill="url(#gG)" stroke="#0f2a14" stroke-width="1.9"/>
<g fill="none" stroke="#f4fff4" stroke-width="2"><circle cx="79.9" cy="450.6" r="3.7"/><circle cx="93.7" cy="450.6" r="3.7"/></g>
<path d="M80.3,442 Q81,436.8 86,437.2 Q88.5,436.2 91,437.3 Q93,438.5 92,440.5 L90.5,442.5 Q92,444.5 93.7,450.6 L91.5,450.6 L89,446 Q86.5,448.5 85,450.5 L81.5,450.6 L84,446.5 Q80.5,445.5 80.3,442 Z" fill="#f4fff4"/>
<circle cx="1123.2" cy="469.6" r="13.8" fill="url(#gR)" stroke="#2a0a0a" stroke-width="1.9"/>
<g fill="none" stroke="#fff" stroke-width="2"><circle cx="1116.4" cy="474.4" r="3.6"/><circle cx="1129.8" cy="474.4" r="3.6"/></g>
<path d="M1121.5,457 Q1124,458.5 1123,462 Q1121.5,465 1123.5,468 Q1125,470.5 1124,476 L1122,476 Q1122,471 1120,468 Q1118.5,464.5 1120.5,461 Q1121.5,459 1121.5,457 Z" fill="#fff"/>
<path d="M1126,463 Q1129,464 1128.5,468 L1126,470 Q1125.5,466 1126,463 Z" fill="#fff" opacity="0.85"/>
<g fill="none" stroke="#111" stroke-width="2" stroke-linecap="round" stroke-linejoin="round">
<path d="M1109,511.3 C1107.8,514 1107.6,521.3 1109.3,521.3 C1111,521.3 1111.8,511.7 1113.5,511.7 C1115.5,511.7 1117,517 1116.2,520 C1115.6,522.5 1113.5,523.8 1112.4,524.8"/>
<path d="M1112.4,524.8 L1107.7,532.5 L1116,532.7 C1116.3,530.5 1114,526.5 1112.4,524.8 Z"/>
<path d="M1108.1,536.6 C1107.5,541 1108.5,546 1109.9,546 C1111.5,546 1111.8,538 1113,536.8 C1115,536 1116.8,540 1116.4,542.5 C1116,545 1115,546.5 1114,547.2"/>
</g>
<circle cx="505.4" cy="530" r="16" fill="#fff"/>
<circle cx="505.4" cy="530" r="14.2" fill="url(#gS)" stroke="#5a0a45" stroke-width="1.5"/>
<g transform="translate(505.4 530)" fill="none" stroke-linecap="round"><path d="M6.2,-5.6 C4,-7.5 -1,-7.8 -3.5,-5 C-5.5,-2.5 -3.5,0 -0.5,1 C2.5,2 4,3.5 3,5.8 C2,7.8 -3,8.2 -6.5,6.3" stroke="#4a0838" stroke-width="5.2"/><path d="M6.2,-5.6 C4,-7.5 -1,-7.8 -3.5,-5 C-5.5,-2.5 -3.5,0 -0.5,1 C2.5,2 4,3.5 3,5.8 C2,7.8 -3,8.2 -6.5,6.3" stroke="#fff" stroke-width="3.2"/></g>
<circle cx="1004.7" cy="530" r="16" fill="#fff"/>
<circle cx="1004.7" cy="530" r="14.2" fill="url(#gS)" stroke="#5a0a45" stroke-width="1.5"/>
<g transform="translate(1004.7 530)" fill="none" stroke-linecap="round"><path d="M6.2,-5.6 C4,-7.5 -1,-7.8 -3.5,-5 C-5.5,-2.5 -3.5,0 -0.5,1 C2.5,2 4,3.5 3,5.8 C2,7.8 -3,8.2 -6.5,6.3" stroke="#4a0838" stroke-width="5.2"/><path d="M6.2,-5.6 C4,-7.5 -1,-7.8 -3.5,-5 C-5.5,-2.5 -3.5,0 -0.5,1 C2.5,2 4,3.5 3,5.8 C2,7.8 -3,8.2 -6.5,6.3" stroke="#fff" stroke-width="3.2"/></g>
<circle cx="904.5" cy="530" r="16" fill="#fff"/>
<circle cx="904.5" cy="530" r="14.2" fill="url(#gK)" stroke="#0e1f5c" stroke-width="1.5"/>
<ellipse cx="905" cy="519.5" rx="4" ry="2" fill="#8cc4f0" opacity="0.7"/>
<path d="M893.8,524.2 L915.3,524.2 L904.4,542.1 Z" fill="#fff"/>
<path d="M905.8,526.4 L903.2,536.8 M905.8,526.4 L902.6,528.6" stroke="#111" stroke-width="2.8" stroke-linecap="round" fill="none"/>
<circle cx="655" cy="529.8" r="15.9" fill="#fff"/>
<circle cx="655" cy="529.8" r="14" fill="#e8492b" stroke="#3a1a10" stroke-width="1.6"/>
<path d="M648,519 v6 q0,3 2.5,3.5 v10.5 h3 v-10.5 q2.5,-0.5 2.5,-3.5 v-6 h-1.2 v5 h-1 v-5 h-1.2 v5 h-1 v-5 z" fill="#fff"/>
<path d="M659,519 q4.5,2 4.5,10 h-1.8 v10 h-2.7 z" fill="#fff"/>
</svg></body></html>
